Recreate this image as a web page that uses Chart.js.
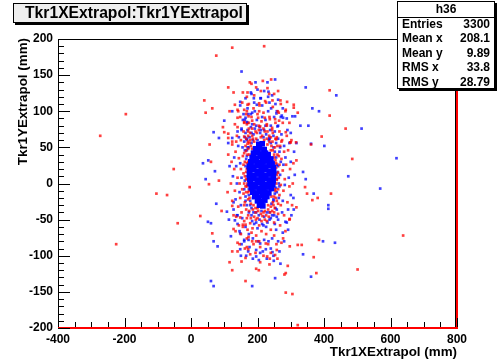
<!DOCTYPE html>
<html>
<head>
<meta charset="utf-8">
<script src="https://cdn.jsdelivr.net/npm/chart.js@4.4.1/dist/chart.umd.min.js"></script>
<style>
  html, body { margin: 0; padding: 0; background: #fff; }
  #wrap { width: 501px; height: 361px; position: relative; }
</style>
</head>
<body>
<div id="wrap"><canvas id="scatter"></canvas></div>
<script>
const xTicks = [-400, -200, 0, 200, 400, 600, 800]
const yTicks = [-200, -150, -100, -50, 0, 50, 100, 150, 200]

const histTitle = 'Tkr1XExtrapol:Tkr1YExtrapol'
const xTitle = 'Tkr1XExtrapol (mm)'
const yTitle = 'Tkr1YExtrapol (mm)'
const statsName = 'h36'
const statsLabels = ['Entries', 'Mean x', 'Mean y', 'RMS x', 'RMS y']
const statsValues = ['3300', '208.1', '9.89', '33.8', '28.79']

// dense blue core (drawn with big markers)
const corePoints = [
    [204, 54], [214, 55],
    [194, 48], [206, 49], [220, 47],
    [188, 42], [200, 43], [212, 41], [224, 42], [232, 40],
    [184, 36], [196, 35], [208, 37], [220, 36], [232, 35], [240, 34],
    [180, 30], [192, 31], [204, 29], [216, 30], [228, 31], [240, 29], [244, 27],
    [176, 24], [188, 23], [200, 25], [212, 24], [224, 23], [236, 25], [248, 22],
    [176, 18], [188, 19], [200, 17], [212, 18], [224, 19], [236, 17], [248, 16],
    [176, 12], [188, 11], [200, 13], [212, 12], [224, 11], [236, 13], [248, 10],
    [177, 6], [188, 7], [200, 5], [212, 6], [224, 7], [236, 5], [247, 4],
    [178, 0], [190, -1], [202, 1], [214, 0], [226, -1], [238, 1], [246, -2],
    [182, -6], [194, -5], [206, -7], [218, -6], [230, -5], [242, -7],
    [186, -12], [198, -13], [210, -11], [222, -12], [234, -13],
    [192, -18], [204, -19], [216, -17], [228, -18],
    [200, -24], [212, -25], [222, -23],
    [206, -30], [216, -31]
]

const redPoints = [
    // close to the core
    [166, 62], [172, 58], [178, 60], [184, 66], [190, 58], [196, 62], [214, 66], [220, 60], [228, 62], [236, 58],
    [242, 52], [246, 46], [250, 40], [254, 32], [256, 22], [258, 12], [256, 0], [254, -10], [250, -18], [246, -26],
    [240, -32], [232, -36], [226, -44], [218, -40], [210, -42], [202, -38], [194, -34], [186, -36], [180, -28], [176, -20],
    [172, -12], [168, -4], [166, 6], [166, 16], [168, 28], [170, 40], [172, 48], [176, 56], [164, 52], [160, 42],
    [162, 30], [158, 14], [160, 0], [158, -14], [162, -26], [166, -36], [172, -44], [180, -48], [190, -46], [200, -48],
    [212, -52], [222, -50], [234, -46], [244, -38], [252, -34], [258, -24], [262, -8], [264, 8], [266, 26], [264, 38],
    [260, 52], [254, 62], [246, 70], [240, 64], [230, 72], [218, 76], [204, 80], [194, 72], [184, 76], [174, 76],
    // halo
    [150, 60], [158, 72], [165, 45], [170, 55], [172, 30], [168, 20], [162, 10], [170, 0], [166, -12], [172, -22],
    [160, -30], [175, -38], [168, -48], [178, -55], [185, -62], [195, -50], [205, -58], [215, -45], [228, -52], [238, -40],
    [248, -30], [255, -20], [252, -8], [258, 5], [262, 15], [256, 28], [260, 40], [252, 50], [245, 58], [235, 66],
    [222, 72], [210, 64], [198, 70], [186, 62], [178, 70], [174, 84], [190, 82], [212, 86], [228, 80], [244, 74],
    [258, 64], [268, 52], [272, 34], [276, 18], [270, -2], [266, -16], [270, -30], [262, -42], [250, -54], [240, -64],
    [226, -70], [212, -66], [196, -72], [182, -68], [170, -64], [160, -52], [152, -40], [148, -20], [146, 0], [150, 20],
    [144, 35], [156, 38], [164, -4], [176, -10], [178, 12], [176, 40], [180, 52], [188, -30], [194, -40], [242, -18],
    [248, 6], [250, 36], [240, 46], [230, 54], [184, 48], [250, -40], [232, -30], [200, -34], [210, -28], [222, -38],
    [172, 66], [158, 26], [262, -28], [278, -10], [282, 6], [286, 26], [280, 44], [274, 60], [266, 72], [254, 84],
    [236, 92], [218, 98], [200, 96], [182, 92], [166, 96], [160, 84], [154, -8], [140, 8], [142, -32], [156, -60],
    [168, -76], [188, -84], [208, -88], [232, -84], [250, -72], [268, -58], [280, -44], [290, -26], [296, -4], [298, 20],
    [292, 46], [288, 66], [276, 84], [264, 98], [246, 106], [226, 112], [206, 108], [188, 104], [174, 110], [160, 102],
    [148, 92], [138, 66], [134, 44], [130, 20], [132, -10], [136, -46], [144, -58],
    [150, -70], [162, -90], [178, -98], [194, -96], [218, -100], [240, -96], [258, -92], [272, -82], [284, -66], [296, -50],
    [304, -30], [306, 0], [308, 28], [302, 60], [296, 84], [284, 100], [270, 110], [250, 124], [230, 132], [210, 128],
    [190, 122], [170, 126], [154, 112], [142, 100], [132, 82], [124, 58], [122, 30], [120, 0], [124, -24], [128, -44],
    [134, -66], [146, -84], [236, -112], [196, -118], [260, -104], [182, 138], [216, 142], [262, 128], [112, 40], [110, -12],
    // outer
    [124, 188], [220, 190], [76, 177], [177, 140], [241, 144], [112, 133], [196, 133], [128, 126], [156, 126], [235, 124],
    [40, 115], [168, 120], [205, 111], [223, 114], [245, 115], [269, 115], [289, 113], [132, 109], [170, 109], [64, 104],
    [44, 98], [116, 100], [140, 102], [168, 100], [205, 100], [261, 100], [285, 102], [309, 105], [309, 109], [321, 98],
    [140, 91], [173, 93], [202, 91], [222, 91], [237, 89], [253, 89], [265, 87], [160, 85], [184, 87], [208, 79],
    [168, 82], [228, 82], [244, 77], [96, 78], [140, 78], [172, 72], [204, 74], [285, 71], [100, 71], [112, 69],
    [112, 63], [136, 58], [160, 65], [256, 61], [272, 58], [300, 57], [316, 57], [56, 54], [124, 54], [60, 30],
    [-52, 20], [84, 4], [54, -1], [-4, -5], [-104, -14], [-72, -16], [-40, -55], [28, -45], [92, -38], [124, -31],
    [148, -47], [128, -63], [156, -57], [164, -57], [64, -69], [140, -82], [173, -74], [184, -80], [196, -80], [205, -80],
    [168, -88], [172, -91], [124, -94], [140, -94], [225, -83], [257, -84], [277, -76], [297, -87], [321, -85], [333, -85],
    [369, -102], [385, -78], [229, -101], [237, -104], [253, -99], [291, -114], [208, -109], [164, -103], [152, -108], [116, -109],
    [124, -120], [204, -120], [285, -124], [377, -124], [164, -135], [285, -151], [305, -153], [321, -196], [281, -126], [-273, 66],
    [-196, 96], [-225, -84], [417, 129], [417, 94], [465, 76], [393, 65], [361, 54], [298, 57], [485, 34], [317, 32],
    [343, -5], [349, -14], [421, -14], [381, -20], [365, -23], [317, -33], [297, -49], [638, -72], [501, -119]
]

const bluePoints = [
    // close to the core
    [168, 60], [176, 64], [182, 56], [188, 68], [200, 60], [208, 70], [218, 64], [226, 68], [234, 60], [240, 56],
    [248, 50], [252, 44], [256, 36], [258, 26], [260, 16], [258, 6], [256, -6], [252, -14], [248, -24], [242, -28],
    [236, -40], [228, -40], [220, -46], [212, -38], [204, -44], [196, -40], [188, -40], [182, -34], [178, -24], [174, -8],
    [170, -2], [168, 10], [170, 22], [166, 34], [168, 46], [174, 50], [160, 58], [162, 46], [164, 24], [162, 4],
    [160, -8], [164, -18], [168, -30], [174, -40], [184, -52], [196, -54], [206, -50], [218, -58], [230, -54], [240, -48],
    [250, -44], [258, -36], [264, -20], [266, -4], [268, 12], [270, 30], [268, 50], [262, 62], [252, 72], [238, 74],
    [224, 80], [210, 74], [196, 80], [182, 70], [170, 84], [252, -56], [164, 70],
    // halo
    [155, 50], [162, 64], [168, 38], [174, 24], [170, 6], [174, -16], [164, -24], [178, -30], [182, -44], [190, -56],
    [200, -62], [214, -56], [226, -60], [236, -50], [244, -44], [254, -34], [258, -12], [264, 0], [262, 24], [266, 44],
    [256, 56], [248, 66], [240, 80], [224, 88], [206, 78], [192, 76], [180, 78], [170, 74], [162, 88], [180, 96],
    [198, 88], [214, 92], [232, 100], [250, 92], [262, 80], [272, 68], [280, 52], [284, 36], [278, 26], [282, -2],
    [276, -24], [274, -40], [262, -50], [256, -64], [244, -76], [220, -78], [202, -80], [186, -76], [174, -70], [164, -60],
    [154, -48], [150, -30], [146, -12], [152, 8], [148, 28], [142, 52], [152, 76], [158, 96], [170, 104], [190, 112],
    [210, 118], [232, 120], [254, 110], [270, 92], [290, 74], [296, 56], [300, 30], [294, 8], [300, -16], [292, -36],
    [288, -54], [276, -68], [262, -80], [240, -90], [216, -94], [196, -92], [176, -88], [160, -78], [146, -66], [138, -44],
    [134, -22], [138, 0], [136, 24], [140, 72], [148, 108], [164, 118], [182, 124], [200, 130], [220, 128], [244, 122],
    [262, 116], [176, -4], [186, -20], [242, -6], [248, -22], [186, 60], [236, 62], [254, 14], [184, 26], [170, 50],
    [258, -46],
    [152, -84], [166, -100], [186, -104], [204, -106], [228, -104], [248, -100], [266, -94], [280, -80], [292, -64], [302, -44],
    [308, -20], [312, 12], [310, 44], [300, 70], [288, 90], [276, 104], [258, 100], [236, 112], [214, 108], [192, 100],
    [172, 96], [156, 88], [144, 64], [130, 36], [126, 10], [128, -36], [140, -56], [150, -100], [230, 140], [194, 140],
    [116, 24], [114, -50],
    // outer
    [152, 155], [253, 144], [345, 133], [180, 126], [233, 127], [189, 118], [209, 118], [148, 113], [198, 109], [124, 100],
    [184, 98], [241, 104], [257, 97], [365, 104], [385, 100], [273, 94], [164, 91], [277, 91], [305, 93], [313, 93],
    [100, 87], [168, 85], [184, 82], [260, 79], [152, 74], [220, 74], [329, 80], [353, 80], [68, 71], [84, 63],
    [124, 63], [168, 62], [236, 63], [361, 55], [112, 56], [52, 32], [36, 28], [72, 17], [44, 6], [51, -53],
    [60, -55], [76, -28], [108, -39], [128, -26], [132, -51], [140, -44], [148, -69], [120, -73], [68, -80], [80, -87],
    [160, -80], [173, -78], [148, -91], [172, -94], [208, -96], [225, -91], [208, -83], [233, -80], [337, -98], [245, -95],
    [196, -101], [249, -107], [269, -111], [253, -131], [361, -129], [60, -135], [68, -142], [184, -142], [437, 122], [513, 76],
    [401, 52], [317, 56], [618, 35], [473, 10], [337, 16], [345, 6], [569, -7], [369, -14], [413, -30], [413, -35],
    [309, -36], [284, -53], [397, -80], [433, -82]
]

const toXY = arr => arr.map(p => ({ x: p[0], y: p[1] }))
const FONT = '"Liberation Sans", Arial, Helvetica, sans-serif'

const rootDecor = {
    id: 'rootDecor',
    afterDraw(chart) {
        const ctx = chart.ctx
        const a = chart.chartArea
        const xs = chart.scales.x
        const ys = chart.scales.y
        const left = Math.round(a.left)
        const right = Math.round(a.right)
        const top = Math.round(a.top)
        const bottom = Math.round(a.bottom)
        ctx.save()
        // frame
        ctx.fillStyle = '#000000'
        ctx.fillRect(left, top, right - left, 1)
        ctx.fillRect(left, top, 1, bottom - top)
        ctx.fillRect(right - 2, top, 1, bottom - top)
        // red lines on bottom and right
        ctx.fillStyle = '#ff0000'
        ctx.fillRect(left, bottom - 1, right - left, 2)
        ctx.fillRect(right - 1, top, 2, bottom - top + 1)
        // x ticks (inside, upward)
        ctx.fillStyle = '#000000'
        for (let v = xTicks[0]; v <= xTicks[xTicks.length - 1]; v += 50) {
            const px = Math.round(xs.getPixelForValue(v))
            const len = (Math.abs(v) % 200 === 0) ? 9 : 5
            ctx.fillRect(px, bottom - len - 1, 1, len)
        }
        // y ticks (inside, to the right)
        for (let v = yTicks[0]; v <= yTicks[yTicks.length - 1]; v += 10) {
            const py = Math.round(ys.getPixelForValue(v))
            const len = (Math.abs(v) % 50 === 0) ? 12 : 6
            ctx.fillRect(left, py, len, 1)
        }

        // axis titles
        ctx.font = 'bold 13.4px ' + FONT
        ctx.textAlign = 'right'
        ctx.textBaseline = 'middle'
        ctx.fillText(xTitle, right, 352)
        ctx.save()
        ctx.translate(23, top - 1)
        ctx.rotate(-Math.PI / 2)
        ctx.fillText(yTitle, 0, 0)
        ctx.restore()

        // title box
        ctx.fillStyle = '#000000'
        ctx.fillRect(15, 5, 234, 20)
        ctx.fillStyle = '#eeeeee'
        ctx.fillRect(13, 3, 234, 20)
        ctx.lineWidth = 1
        ctx.strokeStyle = '#000000'
        ctx.strokeRect(13.5, 3.5, 233, 19)
        ctx.fillStyle = '#000000'
        ctx.font = 'bold 15.7px ' + FONT
        ctx.textAlign = 'center'
        ctx.fillText(histTitle, 134, 13.5)

        // stats box
        const bx = 397, by = 1, bw = 98, bh = 88
        ctx.fillStyle = '#000000'
        ctx.fillRect(bx + 2, by + 2, bw, bh)
        ctx.fillStyle = '#ffffff'
        ctx.fillRect(bx, by, bw, bh)
        ctx.strokeRect(bx + 0.5, by + 0.5, bw - 1, bh - 1)
        ctx.beginPath()
        ctx.moveTo(bx, 17.5)
        ctx.lineTo(bx + bw, 17.5)
        ctx.stroke()
        ctx.fillStyle = '#000000'
        ctx.font = 'bold 12px ' + FONT
        ctx.textAlign = 'center'
        ctx.fillText(statsName, bx + bw / 2, 9.5)
        statsLabels.forEach((lab, i) => {
            const ty = 24.5 + i * 14.5
            ctx.textAlign = 'left'
            ctx.fillText(lab, 402, ty)
            ctx.textAlign = 'right'
            ctx.fillText(statsValues[i], 490, ty)
        })
        ctx.restore()
    }
}

const data = {
    datasets: [
        {
            label: 'core',
            data: toXY(corePoints),
            backgroundColor: '#0000ff',
            pointStyle: 'rect',
            pointRadius: 4,
            borderWidth: 0,
        },
        {
            label: 'red',
            data: toXY(redPoints),
            backgroundColor: 'rgba(255, 0, 0, 0.75)',
            pointStyle: 'rect',
            pointRadius: 1.9,
            borderWidth: 0,
        },
        {
            label: 'blue',
            data: toXY(bluePoints),
            backgroundColor: 'rgba(0, 0, 255, 0.75)',
            pointStyle: 'rect',
            pointRadius: 1.9,
            borderWidth: 0,
        }
    ]
}

const options = {
    responsive: true,
    maintainAspectRatio: false,
    animation: false,
    events: [],
    layout: { padding: { top: 39, right: 44, left: 0, bottom: 0 } },
    plugins: {
        legend: { display: false },
        tooltip: { enabled: false },
        title: { display: false }
    },
    scales: {
        x: {
            type: 'linear',
            min: -400,
            max: 800,
            afterBuildTicks: scale => { scale.ticks = xTicks.map(v => ({ value: v })) },
            afterFit: scale => { scale.height = 33 },
            grid: { display: false, drawTicks: false },
            border: { display: false },
            ticks: {
                padding: 4,
                maxRotation: 0,
                autoSkip: false,
                color: '#000',
                font: { family: FONT, size: 12, weight: 'bold' }
            }
        },
        y: {
            type: 'linear',
            min: -200,
            max: 200,
            afterBuildTicks: scale => { scale.ticks = yTicks.map(v => ({ value: v })) },
            afterFit: scale => { scale.width = 58 },
            grid: { display: false, drawTicks: false },
            border: { display: false },
            ticks: {
                padding: 5,
                autoSkip: false,
                color: '#000',
                font: { family: FONT, size: 12, weight: 'bold' }
            }
        }
    }
}

const config = {
    type: 'scatter',
    data: data,
    options: options,
    plugins: [rootDecor]
}

const scatterDoc = document.getElementById('scatter')
const scatterChart = new Chart(scatterDoc, config)
</script>
</body>
</html>
